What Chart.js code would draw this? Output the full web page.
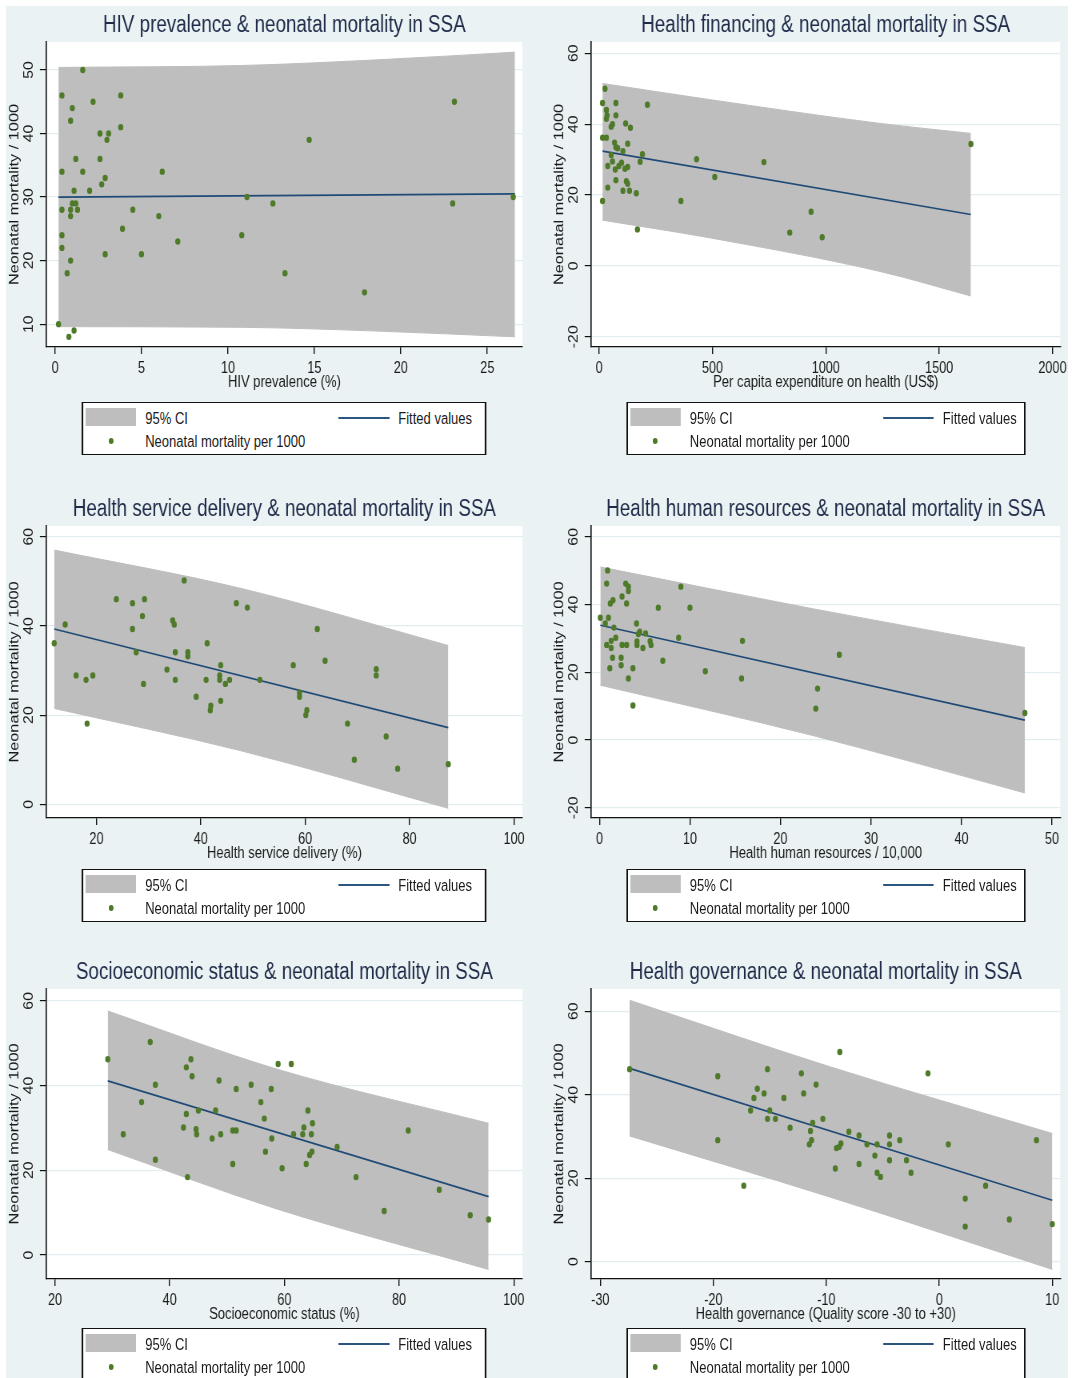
<!DOCTYPE html>
<html>
<head>
<meta charset="utf-8">
<title>Neonatal mortality in SSA</title>
<script src="https://cdn.jsdelivr.net/npm/chart.js@4.4.1/dist/chart.umd.min.js"></script>
<style>
  html, body { margin: 0; padding: 0; background: #fff; }
  body { width: 1076px; height: 1378px; position: relative; overflow: hidden; font-family: 'Liberation Sans', Arial, sans-serif; }
  #bg { position: absolute; left: 6px; top: 6px; width: 1062px; height: 1372px; background: #eaf2f3; }
  #stage { position: absolute; left: 0; top: 0; height: 1378px; transform-origin: 0 0; }
  #stage canvas { position: absolute; }
  .legend { position: absolute; box-sizing: border-box; height: 53px; background: #fff; border-style: solid; border-color: #111; border-width: 1.5px 2px; }
  .legend > * { position: absolute; }
  .legend span { font-size: 16.3px; line-height: 1; color: #1a1a1a; white-space: nowrap; transform: translateY(-50%); }
  .legend .sw { background: #bebebe; }
  .legend .ln { height: 1.6px; background: #2c5682; }
  .legend .dot { width: 6px; height: 6px; border-radius: 50%; background: #4e7a2a; transform: translate(-50%, -50%); }
</style>
</head>
<body>
<div id="bg"></div>
<div id="stage"></div>
<script>
// ---- data ----
// HIV prevalence (%)
const hivX = [1.6,0.4,3.8,2.2,23.1,1.0,0.9,3.8,2.6,3.1,3.0,14.7,1.2,2.6,0.4,1.6,6.2,2.9,2.7,1.1,2.0,11.1,26.5,1.0,1.2,12.6,23.0,0.4,0.9,1.3,4.5,0.9,6.0,3.9,0.4,10.8,7.1,0.4,2.9,5.0,0.9,0.7,13.3,17.9,0.2,0.8,1.1];
const hivY = [50,46,46,45,45,44,42,41,40,40,39,39,36,36,34,34,34,33,32,31,31,30,30,29,29,29,29,28,28,28,28,27,27,25,24,24,23,22,21,21,20,18,18,15,10,8,9];
const hivFitX = [0.2, 26.6];
const hivFitY = [30.0, 30.5];
const hivBandX = [0.2, 10.8, 18.7, 26.6];
const hivBandHi = [50.4, 50.7, 51.6, 52.8];
const hivBandLo = [9.6, 9.5, 8.9, 8.0];
const hivXTicks = [0, 5, 10, 15, 20, 25];
const hivYTicks = [10, 20, 30, 40, 50];

// Per capita expenditure on health (US$)
const finX = [26,15,74,213,32,35,74,32,117,59,53,138,15,32,68,126,1640,74,82,105,191,53,430,59,181,727,99,38,87,126,71,114,510,74,120,126,38,105,134,164,15,361,935,169,841,984];
const finY = [50,46,46,45.5,44,42.5,42.5,41.5,40.2,40,39.3,39,36.2,36.2,34.8,34.5,34.4,33.5,33.2,32.4,31.5,31.3,30.1,29.5,29.4,29.3,29.1,28.2,28.2,27.9,27.2,27.4,25.1,24.2,23.9,23.2,22.1,21.2,21.2,20.5,18.3,18.3,15.3,10.3,9.4,8.1];
const finFitX = [15, 1640];
const finFitY = [32.4, 14.5];
const finBandX = [15, 481, 1241, 1640];
const finBandHi = [51.5, 47.0, 40.2, 37.4];
const finBandLo = [12.9, 8.0, -1.6, -8.5];
const finXTicks = [0, 500, 1000, 1500, 2000];
const finYTicks = [-20, 0, 20, 40, 60];

// Health service delivery (%)
const sdX = [11.9,14.0,16.1,18.0,19.3,18.2,23.8,26.9,29.2,28.8,26.9,27.6,29.0,36.8,34.6,34.9,35.1,37.5,37.5,33.5,35.1,39.1,41.2,41.0,43.8,43.6,43.6,44.7,45.5,43.8,41.9,41.8,46.8,48.9,51.3,57.7,58.9,58.9,60.3,60.1,62.3,63.8,68.1,69.4,73.6,73.6,75.5,77.7,87.4];
const sdY = [36.1,40.3,28.9,27.9,28.9,18.1,46.0,45.1,46.0,42.2,39.3,34.1,27.0,50.2,41.2,40.3,34.1,34.1,33.2,30.2,27.9,24.1,36.1,27.9,31.2,28.9,27.9,27.0,27.9,23.2,22.1,21.1,45.1,44.1,27.9,31.2,25.0,24.1,21.1,20.0,39.3,32.2,18.1,10.0,30.3,28.9,15.2,8.0,9.0];
const sdFitX = [11.9, 87.4];
const sdFitY = [39.3, 17.2];
const sdBandX = [11.9, 47.7, 87.4];
const sdBandHi = [57.0, 48.4, 35.6];
const sdBandLo = [21.5, 12.0, -0.9];
const sdXTicks = [20, 40, 60, 80, 100];
const sdYTicks = [0, 20, 40, 60];

// Health human resources / 10,000
const hrX = [0.1,0.9,0.8,0.65,1.0,0.8,1.2,1.5,1.6,1.3,1.8,1.3,1.45,1.15,2.5,2.9,3.2,3.2,3.0,2.5,3.0,2.4,2.4,3.2,3.7,3.7,4.1,4.45,4.3,4.15,4.15,4.8,5.1,5.6,5.7,6.5,7.0,8.75,9.0,10.0,11.7,15.7,15.8,23.9,24.1,26.5,47.0];
const hrY = [36.1,50.1,46.2,34.4,36.1,28.1,40.3,41.3,33.2,29.3,30.2,27.2,24.3,21.2,42.4,46.2,45.3,44.0,40.3,28.1,28.1,24.3,22.1,18.2,21.2,10.2,34.4,32.0,31.3,29.1,28.1,27.2,31.5,29.2,28.1,39.1,23.4,30.2,45.3,39.1,20.3,18.2,29.3,9.3,15.2,25.2,8.0];
const hrFitX = [0.1, 47.0];
const hrFitY = [33.9, 5.9];
const hrBandX = [0.1, 23.5, 47.0];
const hrBandHi = [51.1, 38.8, 27.3];
const hrBandLo = [16.2, 1.4, -15.6];
const hrXTicks = [0, 10, 20, 30, 40, 50];
const hrYTicks = [-20, 0, 20, 40, 60];

// Socioeconomic status (%)
const sesX = [29.2,31.9,35.1,36.6,37.5,37.5,42.9,43.7,43.9,42.9,42.4,44.6,44.7,45.0,43.1,47.4,48.0,48.6,48.9,51.0,51.6,51.0,51.6,54.2,55.9,56.5,56.7,57.7,57.8,58.9,61.2,59.6,61.6,63.2,63.4,64.1,63.8,64.7,64.9,64.4,64.8,69.2,72.5,77.4,81.6,87.0,92.4,95.6];
const sesY = [46.2,28.5,36.1,50.3,40.2,22.5,44.3,46.2,42.2,33.3,30.1,29.7,28.5,34.1,18.4,27.5,34.1,41.2,28.5,29.4,29.4,21.5,39.2,40.2,36.1,32.2,24.4,39.2,27.5,45.1,45.1,20.5,28.5,28.5,30.1,34.1,21.5,28.5,31.1,23.6,24.4,25.5,18.4,10.4,29.4,15.4,9.4,8.4];
const sesFitX = [29.2, 95.6];
const sesFitY = [41.1, 13.8];
const sesBandX = [29.2, 58.4, 95.6];
const sesBandHi = [57.6, 44.0, 31.1];
const sesBandLo = [24.9, 11.0, -3.4];
const sesXTicks = [20, 40, 60, 80, 100];
const sesYTicks = [0, 20, 40, 60];

// Health governance (quality score -30 to +30)
const govX = [-27.4,-19.6,-19.6,-17.3,-16.7,-16.4,-16.1,-15.5,-15.2,-15.0,-15.2,-14.5,-13.75,-13.2,-12.2,-12.0,-10.9,-11.2,-11.4,-11.3,-11.5,-10.3,-8.8,-9.1,-8.85,-8.7,-9.2,-8.0,-7.1,-7.1,-6.4,-5.7,-5.5,-5.5,-5.2,-4.4,-4.4,-4.4,-3.5,-2.9,-2.5,-1.0,0.8,2.3,2.3,4.1,6.2,8.6,10.0];
const govY = [46.1,44.4,29.1,18.2,36.2,39.2,41.4,40.3,46.1,36.2,34.2,34.2,39.2,32.1,45.1,40.3,42.4,33.2,31.3,29.1,28.1,34.2,50.2,27.2,27.5,28.3,22.3,31.1,30.2,23.4,28.1,25.4,28.1,21.3,20.3,30.2,28.1,24.3,29.1,24.3,21.3,45.1,28.1,15.1,8.4,18.2,10.1,29.1,9.0];
const govFitX = [-27.4, 10.0];
const govFitY = [46.3, 14.7];
const govBandX = [-27.4, -9.7, 10.0];
const govBandHi = [62.6, 46.7, 30.7];
const govBandLo = [30.1, 15.5, -1.85];
const govXTicks = [-30, -20, -10, 0, 10];
const govYTicks = [0, 20, 40, 60];

// ---- look ----
const K = 0.8; // the source figure is squeezed horizontally; draw wide, then squeeze
const ux = v => v / K;
const FONT = "'Liberation Sans', Arial, sans-serif";
const GREEN = '#4e7a2a', NAVY = '#1f4a77', BAND = '#bebebe';
const AXIS = '#111', TXT = '#1a1a1a', GRID = '#e3edf0', TITLE_C = '#1e2a48';
const TITLE_H = 36, XAXIS_H = 48;

const LEFT = { cL: 6, pL: 46, pR: 522, cR: 545, lL: 81.6, lW: 405 };
const RIGHT = { cL: 551, pL: 591, pR: 1060, cR: 1076, lL: 626.2, lW: 399 };

const panels = [
  { col: LEFT, pT: 42, pB: 347, legTop: 402, title: 'HIV prevalence & neonatal mortality in SSA', xTitle: 'HIV prevalence (%)',
    x: hivX, y: hivY, fitX: hivFitX, fitY: hivFitY, bandX: hivBandX, hi: hivBandHi, lo: hivBandLo,
    xTicks: hivXTicks, yTicks: hivYTicks, xMin: -0.5, xMax: 27.03, yMin: 6.4, yMax: 54.4 },
  { col: RIGHT, pT: 42, pB: 347, legTop: 402, title: 'Health financing & neonatal mortality in SSA', xTitle: 'Per capita expenditure on health (US$)',
    x: finX, y: finY, fitX: finFitX, fitY: finFitY, bandX: finBandX, hi: finBandHi, lo: finBandLo,
    xTicks: finXTicks, yTicks: finYTicks, xMin: -35, xMax: 2034, yMin: -22.9, yMax: 63.2 },
  { col: LEFT, pT: 526, pB: 818, legTop: 869, title: 'Health service delivery & neonatal mortality in SSA', xTitle: 'Health service delivery (%)',
    x: sdX, y: sdY, fitX: sdFitX, fitY: sdFitY, bandX: sdBandX, hi: sdBandHi, lo: sdBandLo,
    xTicks: sdXTicks, yTicks: sdYTicks, xMin: 10.4, xMax: 101.6, yMin: -3.07, yMax: 62.4 },
  { col: RIGHT, pT: 526, pB: 818, legTop: 869, title: 'Health human resources & neonatal mortality in SSA', xTitle: 'Health human resources / 10,000',
    x: hrX, y: hrY, fitX: hrFitX, fitY: hrFitY, bandX: hrBandX, hi: hrBandHi, lo: hrBandLo,
    xTicks: hrXTicks, yTicks: hrYTicks, xMin: -0.91, xMax: 50.9, yMin: -23.0, yMax: 63.2 },
  { col: LEFT, pT: 989, pB: 1279, legTop: 1328, title: 'Socioeconomic status & neonatal mortality in SSA', xTitle: 'Socioeconomic status (%)',
    x: sesX, y: sesY, fitX: sesFitX, fitY: sesFitY, bandX: sesBandX, hi: sesBandHi, lo: sesBandLo,
    xTicks: sesXTicks, yTicks: sesYTicks, xMin: 18.5, xMax: 101.5, yMin: -5.66, yMax: 62.8 },
  { col: RIGHT, pT: 989, pB: 1279, legTop: 1328, title: 'Health governance & neonatal mortality in SSA', xTitle: 'Health governance (Quality score -30 to +30)',
    x: govX, y: govY, fitX: govFitX, fitY: govFitY, bandX: govBandX, hi: govBandHi, lo: govBandLo,
    xTicks: govXTicks, yTicks: govYTicks, xMin: -30.8, xMax: 10.7, yMin: -4.15, yMax: 65.3 }
];

const stage = document.getElementById('stage');
stage.style.width = ux(1076) + 'px';
stage.style.transform = `scaleX(${K})`;

const pts = (xs, ys) => xs.map((x, i) => ({ x, y: ys[i] }));
const plain = v => String(v); // Stata prints 2000, not 2,000

// white plot region, as in Stata
const plotBg = {
  id: 'plotBg',
  beforeDraw(chart) {
    const a = chart.chartArea, c = chart.ctx;
    c.save();
    c.fillStyle = '#fff';
    c.fillRect(a.left, a.top, a.right - a.left, a.bottom - a.top);
    c.restore();
  }
};

const TICK_FONT = 15.8;
const measure = document.createElement('canvas').getContext('2d');
measure.font = `${TICK_FONT}px ${FONT}`;

function makePanel(p) {
  const { cL, pL, pR, cR } = p.col;
  const top = p.pT - TITLE_H;
  const cv = document.createElement('canvas');
  cv.width = Math.round(ux(cR - cL));
  cv.height = p.pB + XAXIS_H - top;
  cv.style.left = ux(cL) + 'px';
  cv.style.top = top + 'px';
  stage.appendChild(cv);

  const yW = ux(pL - cL);
  const padRight = cv.width - ux(pR - cL);
  const yTickLen = ux(6.5);
  const widest = Math.max(...p.yTicks.map(v => measure.measureText(plain(v)).width));
  const yPad = ux(16.8) - yTickLen - widest / 2;

  new Chart(cv, {
    type: 'scatter',
    data: {
      datasets: [
        { label: 'Neonatal mortality per 1000', data: pts(p.x, p.y), backgroundColor: GREEN, borderWidth: 0, pointRadius: 3.2, pointHoverRadius: 3.2 },
        { type: 'line', label: 'Fitted values', data: pts(p.fitX, p.fitY), borderColor: NAVY, borderWidth: 1.7, pointRadius: 0, fill: false },
        { type: 'line', label: '95% CI', data: pts(p.bandX, p.hi), borderColor: BAND, borderWidth: 1, backgroundColor: BAND, pointRadius: 0, cubicInterpolationMode: 'monotone', fill: '+1' },
        { type: 'line', label: '95% CI lower', data: pts(p.bandX, p.lo), borderColor: BAND, borderWidth: 1, pointRadius: 0, cubicInterpolationMode: 'monotone', fill: false }
      ]
    },
    options: {
      responsive: false,
      animation: false,
      events: [],
      layout: { padding: { left: 0, top: 0, right: padRight, bottom: 0 } },
      plugins: {
        legend: { display: false },
        tooltip: { enabled: false },
        title: {
          display: true, text: p.title, fullSize: false, color: TITLE_C,
          font: { family: FONT, size: 23.5, weight: 'normal' },
          padding: { top: 5.9, bottom: 1.9 }
        }
      },
      scales: {
        x: {
          type: 'linear', min: p.xMin, max: p.xMax,
          afterBuildTicks: s => { s.ticks = p.xTicks.map(v => ({ value: v })); },
          afterFit: s => { s.height = XAXIS_H; },
          grid: { drawOnChartArea: false, tickLength: 7, tickColor: AXIS, lineWidth: ux(1.1) },
          border: { color: AXIS, width: 1.3 },
          ticks: { color: TXT, font: { family: FONT, size: TICK_FONT }, padding: 5.5, maxRotation: 0, autoSkip: false, callback: plain },
          title: { display: true, text: p.xTitle, color: TXT, font: { family: FONT, size: 16.3 }, padding: { top: 0, bottom: 2.4 } }
        },
        y: {
          type: 'linear', min: p.yMin, max: p.yMax,
          afterBuildTicks: s => { s.ticks = p.yTicks.map(v => ({ value: v })); },
          afterFit: s => { s.width = yW; },
          grid: { color: GRID, lineWidth: 1.2, tickLength: yTickLen, tickColor: AXIS },
          border: { color: AXIS, width: ux(1.3) },
          ticks: { color: TXT, font: { family: FONT, size: TICK_FONT }, minRotation: 90, maxRotation: 90, crossAlign: 'center', padding: yPad, autoSkip: false, callback: plain },
          title: { display: true, text: 'Neonatal mortality / 1000', color: TXT, font: { family: FONT, size: 16.3 }, padding: { top: 0.8, bottom: 0 } }
        }
      }
    },
    plugins: [plotBg]
  });
}

function makeLegend(p) {
  const { lL, lW } = p.col;
  const box = document.createElement('div');
  box.className = 'legend';
  box.style.left = ux(lL) + 'px';
  box.style.top = p.legTop + 'px';
  box.style.width = ux(lW) + 'px';
  box.innerHTML =
    `<div class="sw" style="left:${ux(2.5)}px;top:4.5px;width:${ux(50.5)}px;height:18px"></div>` +
    `<span style="left:${ux(62)}px;top:14.5px">95% CI</span>` +
    `<div class="ln" style="left:${ux(255)}px;top:14px;width:${ux(51)}px"></div>` +
    `<span style="left:${ux(315)}px;top:14.5px">Fitted values</span>` +
    `<div class="dot" style="left:${ux(27.6)}px;top:37.5px"></div>` +
    `<span style="left:${ux(62)}px;top:37.5px">Neonatal mortality per 1000</span>`;
  stage.appendChild(box);
}

panels.forEach(p => { makePanel(p); makeLegend(p); });
</script>
</body>
</html>
